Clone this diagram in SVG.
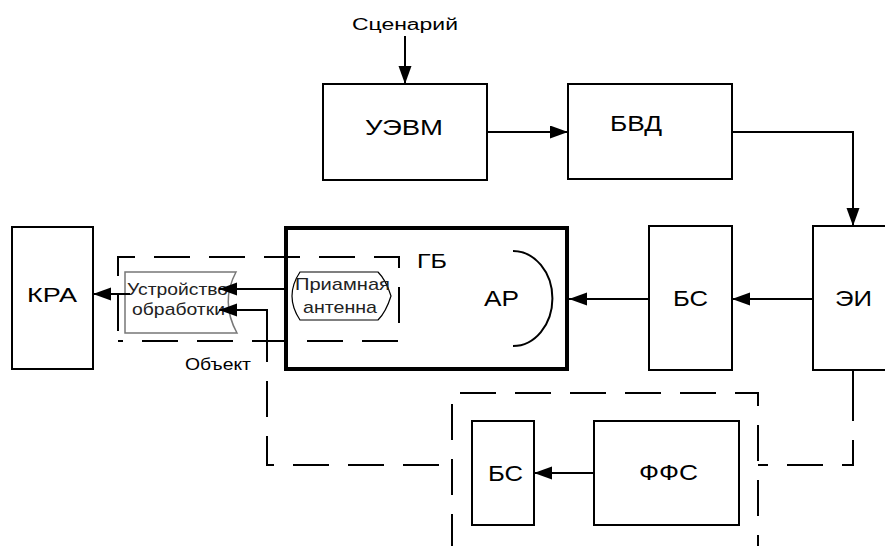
<svg xmlns="http://www.w3.org/2000/svg" width="885" height="546" viewBox="0 0 885 546">
<style>
.box{fill:#fff;stroke:#000;stroke-width:2}
.thick{fill:#fff;stroke:#000;stroke-width:4}
.ln{fill:none;stroke:#000;stroke-width:2}
.dash{fill:none;stroke:#000;stroke-width:2;stroke-dasharray:36 19}
.t{font-family:"Liberation Sans",Arial,sans-serif;fill:#000}
.g{font-family:"Liberation Sans",Arial,sans-serif;fill:#222}
</style>
<defs>
<marker id="ah" markerUnits="userSpaceOnUse" markerWidth="20" markerHeight="14" refX="18" refY="6.5" orient="auto">
<path d="M0,0 L18,6.5 L0,13 Z" fill="#000"/>
</marker>
</defs>
<rect width="885" height="546" fill="#fff"/>

<g id="node-scenario">
<text class="t" x="352" y="30" font-size="16" textLength="106" lengthAdjust="spacingAndGlyphs">Сценарий</text>
</g>
<g id="node-uevm">
<rect class="box" x="323" y="84" width="164" height="96"/>
<text class="t" x="365" y="135" font-size="22" textLength="78" lengthAdjust="spacingAndGlyphs">УЭВМ</text>
</g>
<g id="node-bvd">
<rect class="box" x="568" y="84" width="164" height="95"/>
<text class="t" x="610" y="131" font-size="22" textLength="52" lengthAdjust="spacingAndGlyphs">БВД</text>
</g>
<g id="node-ei">
<rect class="box" x="813" y="226" width="80" height="144"/>
<text class="t" x="835" y="306" font-size="22" textLength="37" lengthAdjust="spacingAndGlyphs">ЭИ</text>
</g>
<g id="node-bs1">
<rect class="box" x="649" y="226" width="83" height="144"/>
<text class="t" x="673" y="306" font-size="22" textLength="35" lengthAdjust="spacingAndGlyphs">БС</text>
</g>
<g id="node-gb">
<rect class="thick" x="286" y="228" width="281" height="141"/>
<text class="t" x="417" y="268" font-size="21" textLength="30" lengthAdjust="spacingAndGlyphs">ГБ</text>
<path class="ln" d="M513,251 A39,47 0 0 1 513,346"/>
<text class="t" x="484" y="306" font-size="22" textLength="35" lengthAdjust="spacingAndGlyphs">АР</text>
</g>
<g id="node-antenna">
<path d="M300,272 L378,272 Q386,280 391,296 Q386,312 378,320 L300,320 Q284,296 300,272 Z" fill="#fff" stroke="#000" stroke-width="1.2"/>
<text class="g" x="295" y="290" font-size="17" textLength="95" lengthAdjust="spacingAndGlyphs">Приамная</text>
<text class="g" x="303" y="313" font-size="17" textLength="74" lengthAdjust="spacingAndGlyphs">антенна</text>
</g>
<g id="node-device">
<path d="M125,272 L236,272 Q220,302 237,333 L125,333 Z" fill="#fff" stroke="#777" stroke-width="1.5"/>
<text class="g" x="127" y="295" font-size="17" textLength="101" lengthAdjust="spacingAndGlyphs">Устройство</text>
<text class="g" x="132" y="315" font-size="17" textLength="93" lengthAdjust="spacingAndGlyphs">обработки</text>
</g>
<g id="node-kra">
<rect class="box" x="12" y="227" width="81" height="142"/>
<text class="t" x="27" y="302" font-size="21" textLength="50" lengthAdjust="spacingAndGlyphs">КРА</text>
</g>
<g id="node-object">
<text class="t" x="185" y="370" font-size="17" textLength="66" lengthAdjust="spacingAndGlyphs">Объект</text>
</g>
<g id="node-bs2">
<rect class="box" x="472" y="421" width="62" height="104"/>
<text class="t" x="488" y="481" font-size="22" textLength="35" lengthAdjust="spacingAndGlyphs">БС</text>
</g>
<g id="node-ffs">
<rect class="box" x="594" y="421" width="145" height="104"/>
<text class="t" x="639" y="480" font-size="22" textLength="59" lengthAdjust="spacingAndGlyphs">ФФС</text>
</g>

<g id="dashed">
<path class="dash" d="M118,341 L118,257 L399,257 L399,341 Z" style="stroke-dashoffset:-10"/>
<path class="dash" d="M452,546 L452,393 L758,393 L758,546" style="stroke-dashoffset:4"/>
<path class="ln" d="M267,309 L267,345"/>
<path class="dash" d="M267,345 L267,465 L452,465" style="stroke-dashoffset:-36"/>
<path class="ln" d="M853,369 L853,404"/>
<path class="dash" d="M853,404 L853,465 L758,465" style="stroke-dashoffset:-36"/>
</g>

<g id="connectors">
<path class="ln" d="M405,36 L405,84" marker-end="url(#ah)"/>
<path class="ln" d="M487,132 L568,132" marker-end="url(#ah)"/>
<path class="ln" d="M732,132 L853,132 L853,226" marker-end="url(#ah)"/>
<path class="ln" d="M813,299 L732,299" marker-end="url(#ah)"/>
<path class="ln" d="M649,299 L569,299" marker-end="url(#ah)"/>
<path class="ln" d="M286,289 L219,289" marker-end="url(#ah)"/>
<path class="ln" d="M267,310 L219,310" marker-end="url(#ah)"/>
<path class="ln" d="M130,294 L93,294" marker-end="url(#ah)"/>
<path class="ln" d="M594,473 L534,473" marker-end="url(#ah)"/>
</g>
</svg>
